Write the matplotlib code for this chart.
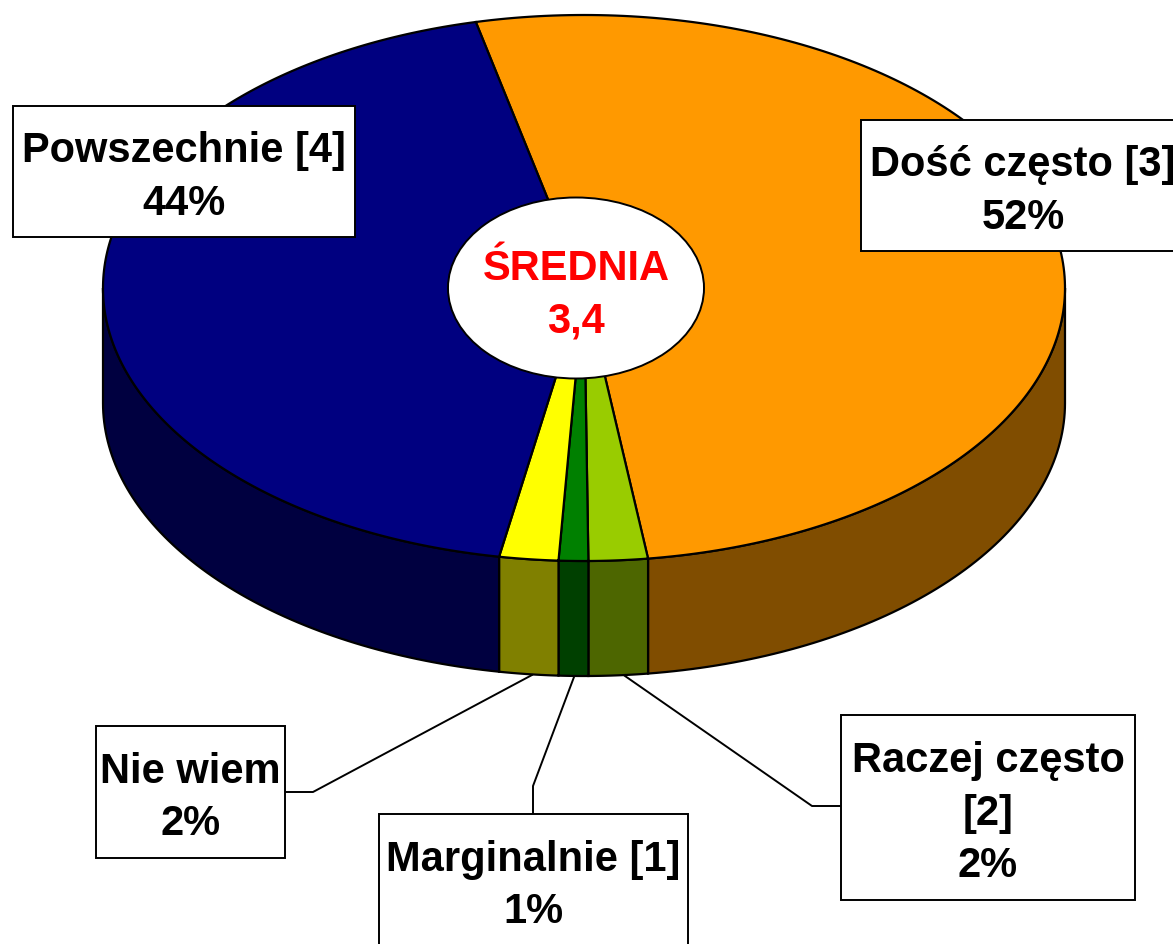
import numpy as np
import matplotlib
matplotlib.use('Agg')
import matplotlib.pyplot as plt
from matplotlib.patches import Ellipse, Rectangle

# slices, clockwise from the top left edge
names = ['Dość często [3]', 'Raczej często [2]', 'Marginalnie [1]', 'Nie wiem', 'Powszechnie [4]']
values = [52, 2, 1, 2, 44]
top_colors = ['#FF9900', '#99CC00', '#008000', '#FFFF00', '#000080']
side_colors = ['#804D00', '#4D6600', '#004000', '#808000', '#000040']

# label boxes: x0, y0, x1, y1, text
boxes = [
    (13, 106, 355, 237, 'Powszechnie [4]\n44%'),
    (861, 120, 1185, 251, 'Dość często [3]\n52%'),
    (96, 726, 285, 858, 'Nie wiem\n2%'),
    (379, 814, 688, 946, 'Marginalnie [1]\n1%'),
    (841, 715, 1135, 900, 'Raczej często\n[2]\n2%'),
]
leaders = [
    ([285, 313, 532], [792, 792, 675]),
    ([533, 533, 574], [814, 786, 677]),
    ([841, 812, 625], [806, 806, 676]),
]

cx, cy, rx, ry = 584, 288, 481, 273
depth = 115
start = 103.0

fig = plt.figure(figsize=(11.73, 9.44), dpi=100)
ax = fig.add_axes([0, 0, 1, 1])
ax.set_xlim(0, 1173)
ax.set_ylim(944, 0)
ax.axis('off')


def rim(t):
    r = np.radians(t)
    return cx + rx * np.cos(r), cy - ry * np.sin(r)


angles = start - np.cumsum([0] + values) * 360.0 / sum(values)
for i in range(len(values)):
    a, b = angles[i], angles[i + 1]  # a > b, going clockwise

    # side wall, only the front half of the rim is seen
    hi, lo = min(a, 0), max(b, -180)
    if hi > lo:
        x, y = rim(np.linspace(hi, lo, 80))
        ax.fill(np.r_[x, x[::-1]], np.r_[y, y[::-1] + depth],
                facecolor=side_colors[i], edgecolor='black', lw=1.6, zorder=2)

    # top face
    x, y = rim(np.linspace(a, b, 200))
    ax.fill(np.r_[cx, x], np.r_[cy, y], facecolor=top_colors[i], edgecolor='black',
            lw=1.6, zorder=3)

for xs, ys in leaders:
    ax.plot(xs, ys, color='black', lw=1.4, zorder=4)

ax.add_patch(Ellipse((576, 288), 256, 181, facecolor='white', edgecolor='black', lw=1.4, zorder=5))
ax.text(576, 295, 'ŚREDNIA\n3,4', color='#FF0000', family='Liberation Sans', fontweight='bold',
        fontsize=30, ha='center', va='center', linespacing=1.4, zorder=6)

for x0, y0, x1, y1, label in boxes:
    ax.add_patch(Rectangle((x0, y0), x1 - x0, y1 - y0, facecolor='white', edgecolor='black', lw=1.4, zorder=5))
    ax.text((x0 + x1) / 2, (y0 + y1) / 2 + 6, label, color='black', family='Liberation Sans',
            fontweight='bold', fontsize=30, ha='center', va='center', linespacing=1.4, zorder=6)

fig.savefig('out.png', dpi=100, facecolor='white')
